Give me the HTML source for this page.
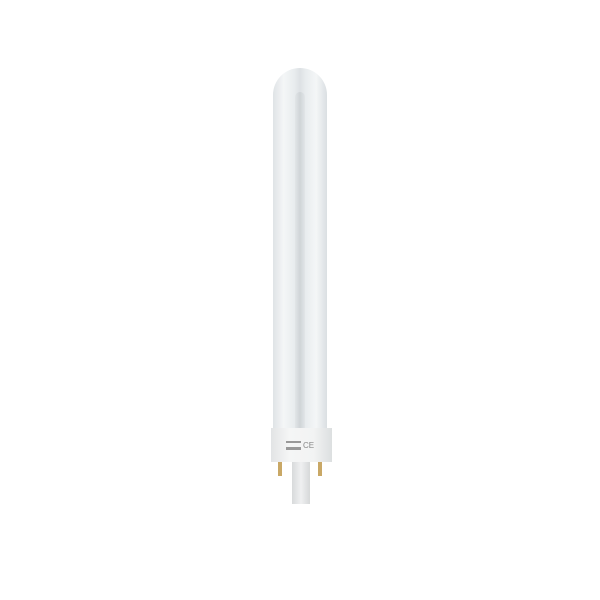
<html><body style="margin:0;width:600px;height:600px;background:#fff;position:relative;overflow:hidden">
<div style="position:absolute;left:273px;top:68px;width:54px;height:365px;border-radius:27px 27px 0 0;background:linear-gradient(90deg,#dfe3e6,#f4f6f7 20%,#e8ecee 40%,#dde1e4 50%,#e8ecee 60%,#f4f6f7 80%,#dadfe2)"></div>
<div style="position:absolute;left:295px;top:92px;width:10px;height:340px;border-radius:5px 5px 0 0;background:linear-gradient(90deg,#e2e6e8,#cfd4d7,#e2e6e8)"></div>
<div style="position:absolute;left:278px;top:462px;width:4px;height:14px;background:#c9a866"></div>
<div style="position:absolute;left:318px;top:462px;width:4px;height:14px;background:#c9a866"></div>
<div style="position:absolute;left:292px;top:460px;width:18px;height:44px;background:linear-gradient(90deg,#d8dadb,#eff0f1,#d6d8d9)"></div>
<div style="position:absolute;left:271px;top:428px;width:61px;height:34px;background:linear-gradient(90deg,#e2e4e5,#f5f6f6 30%,#f2f3f3 70%,#dcdfe0)"></div>
<div style="position:absolute;left:286px;top:441px;width:15px;height:2px;background:#999"></div>
<div style="position:absolute;left:286px;top:447px;width:15px;height:3px;background:#999"></div>
<div style="position:absolute;left:303px;top:441px;width:10px;height:9px;color:#888;font:8px 'Liberation Sans',sans-serif;line-height:9px">CE</div>
</body></html>
